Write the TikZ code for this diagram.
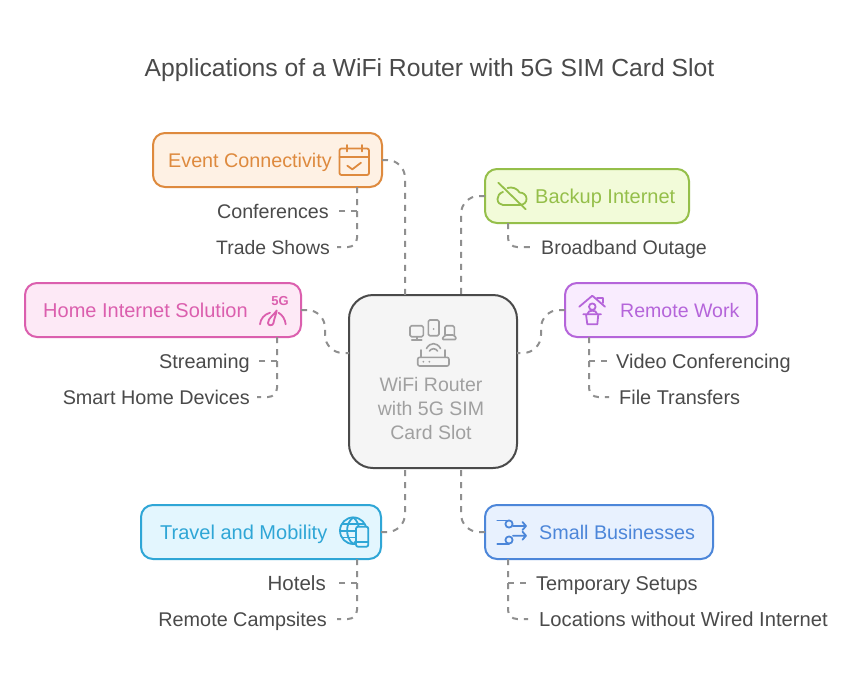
\documentclass[tikz,border=0pt]{standalone}
\usepackage{fontspec}
\setmainfont{Liberation Sans}
\definecolor{inkc}{HTML}{4A4A4A}
\definecolor{dashc}{HTML}{8F8F8F}
\definecolor{evs}{HTML}{DE8A3E}\definecolor{evf}{HTML}{FEF1E4}
\definecolor{bks}{HTML}{95BF4A}\definecolor{bkf}{HTML}{F2FBD9}
\definecolor{hms}{HTML}{DB5FAE}\definecolor{hmf}{HTML}{FDE9F6}
\definecolor{rms}{HTML}{B565DA}\definecolor{rmf}{HTML}{F9ECFE}
\definecolor{trs}{HTML}{2FA6D6}\definecolor{trf}{HTML}{E3F6FE}
\definecolor{sms}{HTML}{4C86D9}\definecolor{smf}{HTML}{E8F1FE}
\definecolor{hubs}{HTML}{4A4A4A}\definecolor{hubf}{HTML}{F5F5F5}\definecolor{hubt}{HTML}{A0A0A0}
\tikzset{
  card/.style n args={4}{draw=#1,fill=#2,line width=2pt,rounded corners=12pt,
    minimum width=#3,minimum height=#4,inner sep=0pt,outer sep=0pt,anchor=north west},
  leafsize/.style={font=\fontsize{#1}{24}\selectfont},
  cardtext/.style={leafsize=20,anchor=base west,inner sep=0pt},
  leaf/.style={leafsize=19.9,text=inkc,inner sep=0pt},
  link/.style={draw=dashc,line width=2pt,dash pattern=on 6pt off 6pt,rounded corners=18pt},
  twig/.style={draw=dashc,line width=2pt,dash pattern=on 6pt off 6pt,rounded corners=9pt},
  ico/.style={draw=#1,line width=1.8pt,line cap=round,line join=round,fill=none},
  hubline/.style={draw=hubt,line width=1.6pt,line cap=round,line join=round},
}
\begin{document}
\begin{tikzpicture}[x=1pt,y=-1pt]
\useasboundingbox (0,0) rectangle (858,680);
\fill[white] (0,0) rectangle (858,680);

\node[font=\fontsize{24.7}{28}\selectfont,text=inkc,inner sep=0pt,anchor=base] (title) at (429.5,76)
  {Applications of a WiFi Router with 5G SIM Card Slot};

% central hub and topic cards
\node[card={hubs}{hubf}{168pt}{173pt},rounded corners=24pt] (hub) at (349,295) {};
\node[card={evs}{evf}{229pt}{54pt}] (event) at (153,133) {};
\node[card={bks}{bkf}{204pt}{54pt}] (backup) at (485,169) {};
\node[card={hms}{hmf}{276pt}{54pt}] (home) at (25,283) {};
\node[card={rms}{rmf}{192pt}{54pt}] (remote) at (565,283) {};
\node[card={trs}{trf}{240pt}{54pt}] (travel) at (141,505) {};
\node[card={sms}{smf}{228pt}{54pt}] (small) at (485,505) {};

% hub attachment points
\coordinate (hubNl) at (405,295);
\coordinate (hubNr) at (461,295);
\coordinate (hubSl) at (405,468);
\coordinate (hubSr) at (461,468);
\coordinate (hubW) at (349,353);
\coordinate (hubE) at (517,353);

% leaves
\node[leaf,leafsize=19.7,anchor=base east] (conf) at (329,218) {Conferences};
\node[leaf,leafsize=19.4,anchor=base east] (trade) at (330,254) {Trade Shows};
\node[leaf,leafsize=19.6,anchor=base west] (outage) at (541,254) {Broadband Outage};
\node[leaf,anchor=base east] (stream) at (250,368) {Streaming};
\node[leaf,leafsize=19.8,anchor=base east] (devices) at (250,404) {Smart Home Devices};
\node[leaf,anchor=base west] (video) at (616,368) {Video Conferencing};
\node[leaf,anchor=base west] (files) at (619,404) {File Transfers};
\node[leaf,leafsize=20.5,anchor=base east] (hotels) at (326,590) {Hotels};
\node[leaf,leafsize=19.8,anchor=base east] (camp) at (327,626) {Remote Campsites};
\node[leaf,anchor=base west] (temp) at (536,590) {Temporary Setups};
\node[leaf,leafsize=20.2,anchor=base west] (loc) at (539,626) {Locations without Wired Internet};

% trunk columns below the cards
\coordinate (colA) at (357,0);
\coordinate (colB) at (508,0);
\coordinate (colC) at (277,0);
\coordinate (colD) at (589,0);

% connectors from cards to hub
\draw[link] (event.east) -- (405,160) -- (hubNl);
\draw[link] (backup.west) -- (461,196) -- (hubNr);
\draw[link] (home.east) -- (325,310) -- (325,353) -- (hubW);
\draw[link] (remote.west) -- (541,310) -- (541,353) -- (hubE);
\draw[link] (travel.east) -- (405,532) -- (hubSl);
\draw[link] (small.west) -- (461,532) -- (hubSr);

% connectors from cards to leaves
\draw[twig] (event.south -| colA) -- (357,247) -- (337,247);
\draw[twig] (357,211) -- (339,211);
\draw[twig] (backup.south -| colB) -- (508,247) -- (530,247);
\draw[twig] (home.south -| colC) -- (277,397) -- (257,397);
\draw[twig] (277,361) -- (259,361);
\draw[twig] (remote.south -| colD) -- (589,397) -- (609,397);
\draw[twig] (589,361) -- (607,361);
\draw[twig] (travel.south -| colA) -- (357,619) -- (337,619);
\draw[twig] (357,583) -- (339,583);
\draw[twig] (small.south -| colB) -- (508,619) -- (528,619);
\draw[twig] (508,583) -- (526,583);

% card titles
\node[cardtext,leafsize=19.75,text=evs] (eventt) at (168,167) {Event Connectivity};
\node[cardtext,text=bks] (backupt) at (535,203) {Backup Internet};
\node[cardtext,text=hms] (homet) at (43,317) {Home Internet Solution};
\node[cardtext,leafsize=19.55,text=rms] (remotet) at (620,317) {Remote Work};
\node[cardtext,text=trs] (travelt) at (160,539) {Travel and Mobility};
\node[cardtext,leafsize=19.75,text=sms] (smallt) at (539,539) {Small Businesses};
\node[font=\fontsize{19.5}{24}\selectfont,text=hubt,align=center,inner sep=0pt] (hubtext) at (431,409)
  {WiFi Router\\with 5G SIM\\Card Slot};

% calendar icon
\draw[ico=evs,rounded corners=2pt] (339.5,148.5) rectangle (369,175);
\draw[ico=evs] (339.5,157) -- (369,157) (346.8,145) -- (346.8,151.5) (361.7,145) -- (361.7,151.5);
\draw[ico=evs] (347.3,165.7) -- (352.3,169.3) -- (361,162.7);

% cloud with a slash
\draw[ico=bks] (503,205) -- (519.5,205)
  .. controls (524,205) and (526.8,202) .. (526.5,198.5)
  .. controls (526.3,195) and (523.5,192.5) .. (519.5,192.5)
  .. controls (517.5,188.5) and (512,186.5) .. (507.5,188)
  (503,192) .. controls (499.5,193) and (497.5,196) .. (497.5,199)
  .. controls (497.5,202.5) and (500,205) .. (503,205);
\draw[ico=bks] (498.3,182.7) -- (525.7,209.3);

% 5G gauge
\node[font=\bfseries\fontsize{13}{14}\selectfont,text=hms,inner sep=0pt] (fiveg) at (280,301) {5G};
\draw[ico=hms] (260,324.3) .. controls (260.5,319) and (264,314.5) .. (270,312.7);
\draw[ico=hms] (278.5,312.7) .. controls (282.5,315) and (285,319) .. (285.7,324.3);
\draw[ico=hms] (276.7,310.5) .. controls (274,315) and (268,318) .. (268,323)
  .. controls (268,326) and (273,326) .. (273.5,323) .. controls (274,319) and (276,315) .. (276.7,310.5);

% home office
\draw[ico=rms] (579.3,306.7) -- (592.3,295.7) -- (605,306.7);
\draw[ico=rms] (597,297.7) -- (603.3,297.7) -- (603.3,303);
\draw[ico=rms] (592.3,306.7) circle[radius=3.3pt];
\draw[ico=rms] (587.5,314) .. controls (587.5,309.5) and (597,309.5) .. (597,314);
\draw[ico=rms] (583.3,314.3) -- (601,314.3) (586,314.3) -- (587.3,324.3) -- (597.3,324.3) -- (598.3,314.3);

% globe and phone
\draw[ico=trs] (353.3,530.7) circle[radius=13.3pt];
\draw[ico=trs] (353.3,517.4) .. controls (345,523) and (345,538) .. (353.3,544);
\draw[ico=trs] (353.3,517.4) .. controls (361,523) and (361,538) .. (353.3,544);
\draw[ico=trs] (340,530.7) -- (366.6,530.7) (342,524) -- (364.6,524) (342,537.4) -- (364.6,537.4);
\draw[ico=trs,fill=trf,rounded corners=2pt] (356,526.7) rectangle (368.3,546.7);
\draw[ico=trs] (356,542) -- (368.3,542);

% branching arrows
\draw[ico=sms] (497.3,520.4) -- (509,520.4) (497.3,543.6) -- (509,543.6);
\draw[ico=sms] (509,524) circle[radius=3.6pt] (509,540) circle[radius=3.6pt];
\draw[ico=sms] (513,526) -- (526,526) (522.5,522) -- (526,526) -- (522.5,530);
\draw[ico=sms] (513,535.7) -- (526,535.7) (522.5,531.7) -- (526,535.7) -- (522.5,539.7);

% devices above the router
\draw[hubline,rounded corners=1.5pt] (410,325.7) rectangle (423.3,336.7);
\draw[hubline] (416.7,336.7) -- (416.7,340) (411.7,340) -- (421.7,340);
\draw[hubline,rounded corners=1.5pt] (428.3,320) rectangle (439,335.7);
\fill[hubt] (433.6,329) circle[radius=1pt];
\draw[hubline,rounded corners=1.5pt] (445,335) -- (445,325.7) -- (454.3,325.7) -- (454.3,335);
\draw[hubline,rounded corners=1.5pt] (445,335) -- (441.7,339.5) -- (456.7,339.5) -- (454.3,335) -- cycle;
\draw[hubline] (426.5,348.5) .. controls (430,342) and (437,342) .. (440.5,348.5);
\draw[hubline] (429.5,351) .. controls (431.5,348) and (435.5,348) .. (437.5,351);
\draw[hubline,rounded corners=2pt] (417.7,357.3) rectangle (449,366);
\draw[hubline] (421,350) -- (421,357.3) (445,350) -- (445,357.3);
\fill[hubt] (423.3,361.7) circle[radius=1pt] (429.3,361.7) circle[radius=1pt];
\end{tikzpicture}
\end{document}
